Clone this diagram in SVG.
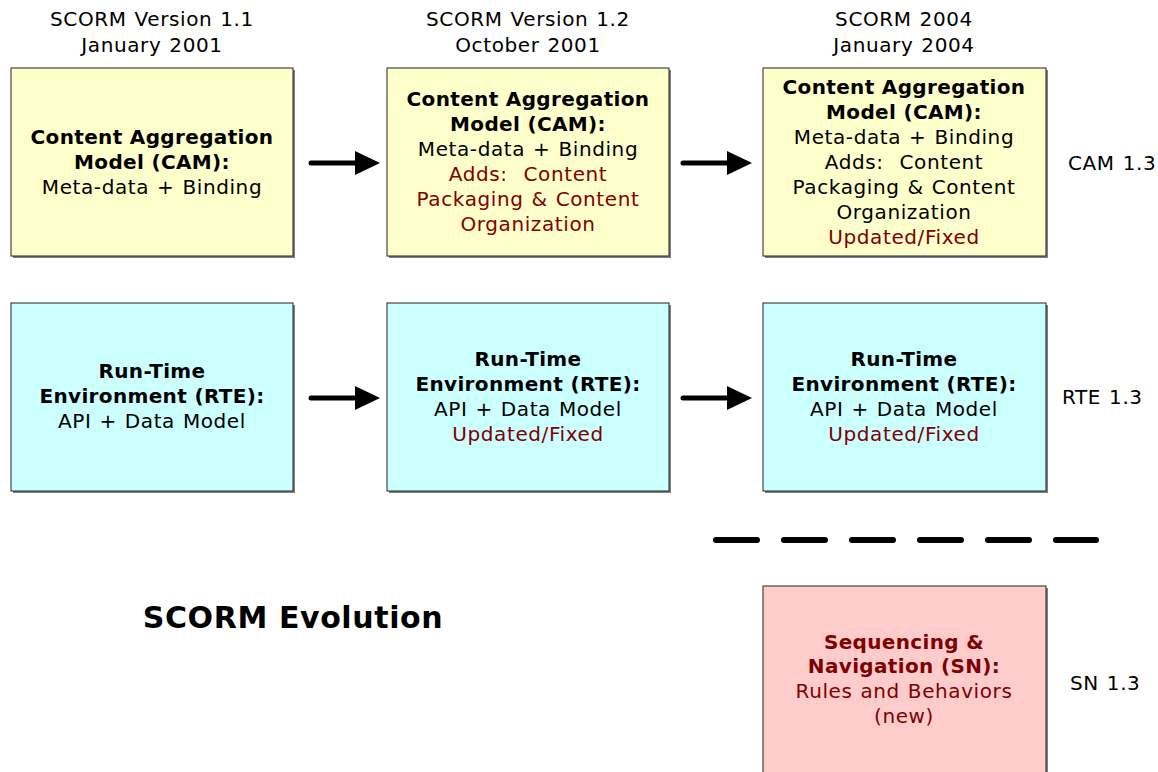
<svg xmlns="http://www.w3.org/2000/svg" width="1158" height="772" viewBox="0 0 1158 772">
<style>
text{font-family:"DejaVu Sans","Liberation Sans",sans-serif;font-size:20px;fill:#000;text-anchor:middle;letter-spacing:0.6px;word-spacing:1px}
.b{font-weight:bold;letter-spacing:0.35px;word-spacing:0}
.r{fill:#800000}
.l{text-anchor:start}
.box{stroke:#222;stroke-width:1}
.sh{fill:#808080}
.y{fill:#FFFFCC}.c{fill:#CCFFFF}.p{fill:#FFCCCC}
.arr{stroke:#000;stroke-width:5;stroke-linecap:round;fill:none}
</style>
<rect width="1158" height="772" fill="#fff"/>
<g id="headers">
<text x="152" y="26">SCORM Version 1.1</text>
<text x="152" y="52">January 2001</text>
<text x="528" y="26">SCORM Version 1.2</text>
<text x="528" y="52">October 2001</text>
<text x="904" y="26">SCORM 2004</text>
<text x="904" y="52">January 2004</text>
</g>
<g id="cam11">
<rect class="sh" x="13" y="70" width="282" height="188"/>
<rect class="box y" x="11" y="68" width="282" height="188"/>
<text class="b" x="152" y="144">Content Aggregation</text>
<text class="b" x="152" y="169">Model (CAM):</text>
<text x="152" y="194">Meta-data + Binding</text>
</g>
<g id="cam12">
<rect class="sh" x="389" y="70" width="282" height="188"/>
<rect class="box y" x="387" y="68" width="282" height="188"/>
<text class="b" x="528" y="106">Content Aggregation</text>
<text class="b" x="528" y="131">Model (CAM):</text>
<text x="528" y="156">Meta-data + Binding</text>
<text class="r" x="528" y="181" xml:space="preserve">Adds:  Content</text>
<text class="r" x="528" y="206">Packaging &amp; Content</text>
<text class="r" x="528" y="231">Organization</text>
</g>
<g id="cam2004">
<rect class="sh" x="765" y="70" width="283" height="188"/>
<rect class="box y" x="763" y="68" width="283" height="188"/>
<text class="b" x="904" y="94">Content Aggregation</text>
<text class="b" x="904" y="119">Model (CAM):</text>
<text x="904" y="144">Meta-data + Binding</text>
<text x="904" y="169" xml:space="preserve">Adds:  Content</text>
<text x="904" y="194">Packaging &amp; Content</text>
<text x="904" y="219">Organization</text>
<text class="r" x="904" y="244">Updated/Fixed</text>
</g>
<g id="rte11">
<rect class="sh" x="13" y="305" width="282" height="188"/>
<rect class="box c" x="11" y="303" width="282" height="188"/>
<text class="b" x="152" y="378">Run-Time</text>
<text class="b" x="152" y="403">Environment (RTE):</text>
<text x="152" y="428">API + Data Model</text>
</g>
<g id="rte12">
<rect class="sh" x="389" y="305" width="282" height="188"/>
<rect class="box c" x="387" y="303" width="282" height="188"/>
<text class="b" x="528" y="366">Run-Time</text>
<text class="b" x="528" y="391">Environment (RTE):</text>
<text x="528" y="416">API + Data Model</text>
<text class="r" x="528" y="441">Updated/Fixed</text>
</g>
<g id="rte2004">
<rect class="sh" x="765" y="305" width="283" height="188"/>
<rect class="box c" x="763" y="303" width="283" height="188"/>
<text class="b" x="904" y="366">Run-Time</text>
<text class="b" x="904" y="391">Environment (RTE):</text>
<text x="904" y="416">API + Data Model</text>
<text class="r" x="904" y="441">Updated/Fixed</text>
</g>
<g id="sn2004">
<rect class="sh" x="765" y="588" width="283" height="190"/>
<rect class="box p" x="763" y="586" width="283" height="190"/>
<text class="b r" x="904" y="649">Sequencing &amp;</text>
<text class="b r" x="904" y="673">Navigation (SN):</text>
<text class="r" x="904" y="698">Rules and Behaviors</text>
<text class="r" x="904" y="723">(new)</text>
</g>
<g id="labels">
<text class="l" x="1068" y="170">CAM 1.3</text>
<text class="l" x="1062" y="404">RTE 1.3</text>
<text class="l" x="1070" y="690">SN 1.3</text>
<text class="b" x="293" y="628" style="font-size:30px;letter-spacing:0.6px">SCORM Evolution</text>
</g>
<g id="connectors">
<line class="arr" x1="311" y1="163" x2="357" y2="163"/>
<path d="M355,151 L380,163 L355,175 Z"/>
<line class="arr" x1="683" y1="163" x2="729" y2="163"/>
<path d="M727,151 L752,163 L727,175 Z"/>
<line class="arr" x1="311" y1="398" x2="357" y2="398"/>
<path d="M355,386 L380,398 L355,410 Z"/>
<line class="arr" x1="683" y1="398" x2="729" y2="398"/>
<path d="M727,386 L752,398 L727,410 Z"/>
<path d="M716,540 H1096" stroke="#000" stroke-width="6" stroke-linecap="round" stroke-dasharray="41 27" fill="none"/>
</g>
</svg>
